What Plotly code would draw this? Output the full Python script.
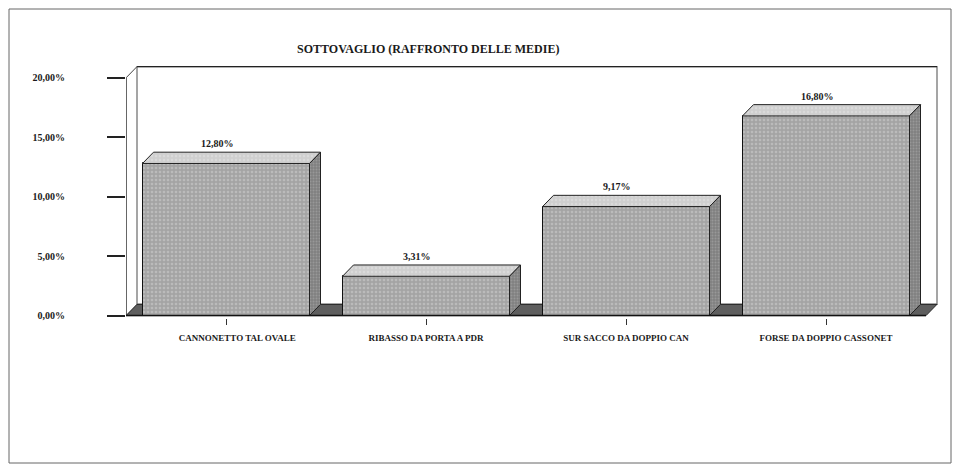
import plotly.graph_objects as go

# Sottovaglio per prodotto (percentuale media)
categories = ["\u00a0\u00a0\u00a0\u00a0\u00a0\u00a0\u00a0\u00a0\u00a0\u00a0CANNONETTO TAL OVALE",
              "RIBASSO DA PORTA A PDR",
              "SUR SACCO DA DOPPIO CAN", "FORSE DA DOPPIO CASSONET"]
values = [12.80, 3.31, 9.17, 16.80]
y_ticks = [0, 5, 10, 15, 20]
y_tick_labels = ["0,00%", "5,00%", "10,00%", "15,00%", "20,00%"]
title_text = "SOTTOVAGLIO (RAFFRONTO DELLE MEDIE)"

W, H = 960, 473
ML, MR, MT, MB = 126, 14, 66, 155
X_RANGE = [-0.5, 3.6]
Y_RANGE = [-0.2, 21]
BAR_W = 0.835
DX, DY = 0.055, 0.95          # depth offset of the pseudo-3D box
FONT = "Liberation Serif"
INK = "#1a1a1a"

def px_x(p):
    return (p - ML) / (W - ML - MR)

def px_y(p):
    return (H - MB - p) / (H - MT - MB)

def fmt(v):
    return f"{v:.2f}".replace(".", ",") + "%"

fig = go.Figure()

xs = list(range(len(values)))

# front faces
fig.add_trace(go.Bar(
    x=xs, y=values, width=BAR_W,
    marker=dict(color="#b0b0b0", line=dict(color="#111", width=1),
                pattern=dict(shape=".", fgcolor="#d2d2d2", bgcolor="#a4a4a4",
                             size=4, solidity=0.35)),
    hoverinfo="skip", showlegend=False))

for i, v in zip(xs, values):
    l, r = i - BAR_W / 2, i + BAR_W / 2
    # top face
    fig.add_trace(go.Scatter(
        x=[l, r, r + DX, l + DX, l], y=[v, v, v + DY, v + DY, v],
        mode="lines", fill="toself", fillcolor="#d4d4d4",
        fillpattern=dict(shape=".", fgcolor="#e4e4e4", bgcolor="#cfcfcf",
                         size=4, solidity=0.3),
        line=dict(color="#222", width=1), hoverinfo="skip", showlegend=False))
    # side face
    fig.add_trace(go.Scatter(
        x=[r, r + DX, r + DX, r, r], y=[0, DY, v + DY, v, 0],
        mode="lines", fill="toself", fillcolor="#8c8c8c",
        fillpattern=dict(shape=".", fgcolor="#b0b0b0", bgcolor="#808080",
                         size=3, solidity=0.35),
        line=dict(color="#222", width=1), hoverinfo="skip", showlegend=False))

x0, x1 = -0.5, 3.5
shapes = []
# back wall
shapes.append(dict(type="path", xref="x", yref="y", layer="below",
                   path=f"M{x0+DX},{DY} L{x0+DX},{20+DY} L{x1+DX},{20+DY} L{x1+DX},{DY} Z",
                   fillcolor="white", line=dict(color="#888", width=1.5)))
shapes.append(dict(type="line", xref="x", yref="y", layer="below",
                   x0=x0 + DX, y0=20 + DY, x1=x1 + DX, y1=20 + DY,
                   line=dict(color="#222", width=1.5)))
# left side wall
shapes.append(dict(type="line", xref="x", yref="y", layer="below",
                   x0=x0, y0=20, x1=x0 + DX, y1=20 + DY,
                   line=dict(color="#444", width=1)))
shapes.append(dict(type="line", xref="x", yref="y", layer="below",
                   x0=x0, y0=0, x1=x0, y1=20,
                   line=dict(color="#333", width=1.5)))
# floor
shapes.append(dict(type="path", xref="x", yref="y", layer="below",
                   path=f"M{x0},0 L{x0+DX},{DY} L{x1+DX},{DY} L{x1},0 Z",
                   fillcolor="#5e5e5e", line=dict(color="#222", width=1)))
shapes.append(dict(type="line", xref="x", yref="y", layer="above",
                   x0=x0 - 0.09, y0=0, x1=x1, y1=0,
                   line=dict(color="#111", width=1.5)))
# outer frame
shapes.append(dict(type="rect", xref="paper", yref="paper", layer="below",
                   x0=px_x(9), x1=px_x(951), y0=px_y(463), y1=px_y(9),
                   line=dict(color="#666", width=1)))

annotations = [dict(xref="paper", yref="paper", x=px_x(428), y=px_y(40),
                    text=f"<b>{title_text}</b>", showarrow=False,
                    font=dict(family=FONT, size=12, color=INK))]
for i, v in zip(xs, values):
    annotations.append(dict(x=i, y=v + DY, yshift=1, xshift=-9, yanchor="bottom",
                            text=f"<b>{fmt(v)}</b>", showarrow=False,
                            font=dict(family=FONT, size=10, color=INK)))

fig.update_layout(
    width=W, height=H,
    margin=dict(l=ML, r=MR, t=MT, b=MB, pad=0),
    paper_bgcolor="white", plot_bgcolor="rgba(0,0,0,0)",
    shapes=shapes, annotations=annotations, bargap=0,
    xaxis=dict(range=X_RANGE, tickmode="array", tickvals=xs,
               ticktext=[f"<b>{c}</b>" for c in categories],
               showgrid=False, zeroline=False, showline=False,
               ticks="outside", ticklen=6, tickcolor="#333", tickwidth=1,
               ticklabelstandoff=5,
               tickfont=dict(family=FONT, size=9, color=INK)),
    yaxis=dict(range=Y_RANGE, tickmode="array", tickvals=y_ticks,
               ticktext=[f"<b>{t}</b>" for t in y_tick_labels],
               showgrid=False, zeroline=False, showline=False,
               ticks="outside", ticklen=18, tickcolor="#222", tickwidth=1.5,
               ticklabelstandoff=40,
               tickfont=dict(family=FONT, size=10, color=INK)),
)

fig.write_html("out.html")
